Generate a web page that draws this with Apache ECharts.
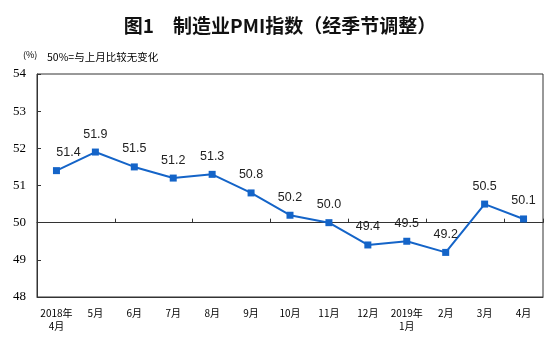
<!DOCTYPE html>
<html><head><meta charset="utf-8">
<script src="https://cdn.jsdelivr.net/npm/echarts@6/dist/echarts.min.js"></script>
<style>html,body{margin:0;padding:0;background:#fff}#c{width:550px;height:345px}</style>
</head><body><div id="c"></div>
<script>
const categories = ['2018年\n4月','5月','6月','7月','8月','9月','10月','11月','12月','2019年\n1月','2月','3月','4月'];
const pmiValues = [51.4, 51.9, 51.5, 51.2, 51.3, 50.8, 50.2, 50.0, 49.4, 49.5, 49.2, 50.5, 50.1];
const yTicks = [48, 49, 50, 51, 52, 53, 54];

const gridTop = 74, gridBottom = 297;
const yMin = yTicks[0], yMax = yTicks[yTicks.length - 1];
const gridH = gridBottom - gridTop;
const midOffset = -gridH * (50 - yMin) / (yMax - yMin);

const chart = echarts.init(document.getElementById('c'));
chart.setOption({
  animation: false,
  title: [{
    text: '图1　制造业PMI指数（经季节调整）',
    left: 275, top: 11, textAlign: 'center',
    textStyle: {fontFamily: 'Noto Sans CJK SC', fontSize: 19, fontWeight: 'bold', color: '#111'}
  }, {
    text: '(%)',
    left: 18, top: 45,
    textStyle: {fontFamily: 'Noto Sans CJK SC', fontSize: 9, fontWeight: 'normal', color: '#000'}
  }, {
    text: '50%=与上月比较无变化',
    left: 42, top: 47,
    textStyle: {fontFamily: 'Noto Sans CJK SC', fontSize: 10.5, fontWeight: 'normal', color: '#000'}
  }],
  grid: {left: 37, right: 7, top: gridTop, bottom: 345 - gridBottom, show: true, borderColor: '#333', borderWidth: 1},
  xAxis: [{
    type: 'category', data: categories, boundaryGap: true,
    axisLine: {show: true, lineStyle: {color: '#333'}},
    axisTick: {show: false},
    axisLabel: {fontFamily: 'Noto Sans CJK SC', fontSize: 10, color: '#000', margin: 10, lineHeight: 13, interval: 0}
  }, {
    type: 'category', data: categories, boundaryGap: true, position: 'bottom', offset: midOffset,
    axisLine: {show: true, lineStyle: {color: '#333'}},
    axisTick: {show: true, inside: true, length: 4, lineStyle: {color: '#333'}},
    axisLabel: {show: false}
  }],
  yAxis: {
    type: 'value', min: yMin, max: yMax, interval: 1,
    axisLine: {show: true, lineStyle: {color: '#333'}},
    axisTick: {show: true, inside: true, length: 4, lineStyle: {color: '#333'}},
    axisLabel: {fontFamily: 'Liberation Serif', fontSize: 13, color: '#000', margin: 11},
    splitLine: {show: false}
  },
  series: [{
    type: 'line', xAxisIndex: 0,
    data: pmiValues.map((v, i) => i === 0 ? {value: v, label: {offset: [12, 0]}} : v),
    symbol: 'rect', symbolSize: 7,
    lineStyle: {color: '#1464c8', width: 2},
    itemStyle: {color: '#1464c8'},
    label: {show: true, position: 'top', distance: 8, fontFamily: 'Liberation Sans', fontSize: 12.5, color: '#222',
      formatter: p => p.value.toFixed(1)}
  }]
});
</script></body></html>
